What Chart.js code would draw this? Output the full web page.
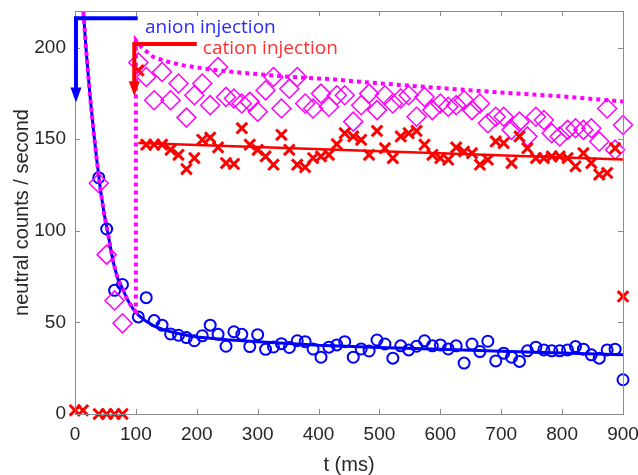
<!DOCTYPE html>
<html>
<head>
<meta charset="utf-8">
<script src="https://cdn.jsdelivr.net/npm/chart.js@4.4.1/dist/chart.umd.min.js"></script>
<style>
  html, body { margin: 0; padding: 0; background: #fff; overflow: hidden; }
  canvas { display: block; }
</style>
</head>
<body>
<canvas id="chart" width="638" height="475"></canvas>
<script>
// time bins (ms)
const times = [
  0, 13, 26, 39, 52, 65, 78, 91, 104, 117,
  130, 143, 157, 170, 183, 196, 209, 222, 235, 248,
  261, 274, 287, 300, 313, 326, 339, 352, 365, 378,
  391, 404, 417, 430, 443, 457, 470, 483, 496, 509,
  522, 535, 548, 561, 574, 587, 600, 613, 626, 639,
  652, 665, 678, 691, 704, 717, 730, 743, 757, 770,
  783, 796, 809, 822, 835, 848, 861, 874, 887, 900
];

// blue circles: anion only
const anionCounts = [
  null, null, null, 129, 101, 67.5, 70.7, null, 53, 63.5,
  51, 48.5, 43.7, 43, 41.7, 40, 42.7, 48.5, 43.5, 37,
  44.9, 43.5, 36.8, 43.3, 35.3, 36.6, 38.4, 36.3, 40, 39.5,
  35.5, 31, 36.5, 37.7, 39.5, 31, 35.5, 34.4, 40.4, 38.2,
  30.5, 37.2, 35, 37, 40, 37.2, 37.7, 35.5, 37.2, 27.8,
  38.2, 34.1, 39.7, 29, 33.2, 31, 28.7, 34.5, 36.5, 35,
  34.5, 34.5, 35, 36.8, 35.4, 32.3, 30.5, 35, 35.4, 18.7
];

// red crosses: cation only
const cationCounts = [
  2, 2, null, 0, 0, 0, 0, null, 187.6, 147,
  147, 147, 144.2, 141.5, 133.7, 139.7, 149.7, 150.9, 145.5, 137,
  136.5, 156, 147, 144.2, 140.6, 136.1, 152.4, 144.2, 136.1, 134.7,
  139.7, 140.6, 141.5, 147.3, 153.3, 151.5, 149.7, 141.5, 154.5, 145.1,
  139.7, 151.5, 153.3, 154.5, 147, 141.5, 139.7, 138.8, 145.5, 143.3,
  142.4, 136.1, 138.8, 148.8, 147.9, 137, 151.5, 145.1, 139.7, 139.7,
  140.6, 140.6, 139.7, 135.2, 142.4, 137, 130.7, 131.6, 145.1, 64.2
];

// magenta diamonds: anion + cation
const mixedCounts = [
  null, null, null, 126, 87, 62, 49.5, null, 191.9, 184,
  171.3, 186.7, 171.3, 180.4, 161.8, 174, 180.4, 168.6, 189.4, 173.1,
  172.2, 169.5, 170.4, 165, 176.7, 184, 166.8, 177.6, 184, 169.5,
  166.8, 174.9, 167.7, 174, 174, 159.6, 168.6, 174.9, 165.9, 174,
  169.5, 172.2, 174, 162.3, 173.1, 165.9, 169.5, 167.7, 168.6, 171.3,
  165.9, 169.5, 158.7, 162.3, 162.3, 155.1, 159.6, 151.5, 162.3, 160.5,
  153.3, 151.5, 155.1, 156, 155.1, 156, 148.8, 166.8, 144.3, 157.8
];

// fit curves
const anionFitT = [8, 13, 18, 24, 30, 36, 42, 48, 55, 62, 70, 78, 86, 95, 104, 115, 130, 150, 175, 200, 250, 300, 400, 500, 600, 700, 800, 900];
const anionFitV = [250, 223, 200, 176, 156, 138, 122, 109, 97, 84, 74, 68.5, 62.5, 57.5, 54, 51, 48, 45.5, 43.5, 42, 40.5, 39.5, 37.5, 36.3, 35.3, 34.3, 33.3, 32.3];

const mixedFitT = [8, 13, 18, 24, 30, 36, 42, 48, 55, 62, 70, 78, 86, 95, 100, 100, 110, 128, 150, 178, 220, 260, 342, 424, 470, 578, 687, 796, 900];
const mixedFitV = [250, 223, 200, 176, 156, 138, 122, 109, 97, 84, 74, 68.5, 62.5, 57.5, 56, 204, 200, 195, 192.5, 190.3, 188.2, 186.7, 184.3, 182.7, 181.3, 178.5, 175.8, 173.5, 170.6];

const cationFitT = [104, 900];
const cationFitV = [148, 139];

const xTicks = [0, 100, 200, 300, 400, 500, 600, 700, 800, 900];
const yTicks = [0, 50, 100, 150, 200];

const pairs = (xs, ys) => xs.map((x, i) => ({ x: x, y: ys[i] })).filter(p => p.y !== null);

function injectionArrow(ctx, xs, ys, tStart, tEnd, level, tip, color) {
  const yl = ys.getPixelForValue(level);
  const xc = xs.getPixelForValue(tStart);
  const xe = xs.getPixelForValue(tEnd);
  const yt = ys.getPixelForValue(tip);
  ctx.strokeStyle = color;
  ctx.fillStyle = color;
  ctx.lineWidth = 4;
  ctx.beginPath();
  ctx.moveTo(xc - 2, yl);
  ctx.lineTo(xe, yl);
  ctx.moveTo(xc, yl - 2);
  ctx.lineTo(xc, yt - 14);
  ctx.stroke();
  ctx.beginPath();
  ctx.moveTo(xc - 5.5, yt - 15);
  ctx.lineTo(xc + 5.5, yt - 15);
  ctx.lineTo(xc, yt);
  ctx.closePath();
  ctx.fill();
}

// box, inward ticks and the two injection markers
const framePlugin = {
  id: 'frame',
  afterDatasetsDraw(chart) {
    const { ctx, chartArea: a } = chart;
    const xs = chart.scales.x, ys = chart.scales.y;
    ctx.save();
    ctx.strokeStyle = '#8c8c8c';
    ctx.lineWidth = 1;
    ctx.strokeRect(a.left + 0.5, a.top + 0.5, a.right - a.left, a.bottom - a.top);
    ctx.beginPath();
    xTicks.forEach(v => {
      const px = Math.round(xs.getPixelForValue(v)) + 0.5;
      ctx.moveTo(px, a.bottom); ctx.lineTo(px, a.bottom - 5);
      ctx.moveTo(px, a.top); ctx.lineTo(px, a.top + 5);
    });
    yTicks.forEach(v => {
      const py = Math.round(ys.getPixelForValue(v)) + 0.5;
      ctx.moveTo(a.left, py); ctx.lineTo(a.left + 5, py);
      ctx.moveTo(a.right, py); ctx.lineTo(a.right - 5, py);
    });
    ctx.stroke();

    injectionArrow(ctx, xs, ys, 1.6, 103, 216, 170, '#0000ff');
    injectionArrow(ctx, xs, ys, 97.4, 200, 202, 173.5, '#ff0000');

    ctx.font = '19px "Open Sans"';
    ctx.textBaseline = 'middle';
    ctx.textAlign = 'left';
    ctx.fillStyle = '#2a2aff';
    ctx.fillText('anion injection', xs.getPixelForValue(115), ys.getPixelForValue(211));
    ctx.fillStyle = '#ff3030';
    ctx.fillText('cation injection', xs.getPixelForValue(210), ys.getPixelForValue(199.3));
    ctx.restore();
  }
};

const tickFont = { family: "'Liberation Sans', Arial, sans-serif", size: 19 };
const titleFont = { family: "'Liberation Sans', Arial, sans-serif", size: 20, lineHeight: 1 };

new Chart(document.getElementById('chart'), {
  type: 'scatter',
  data: {
    datasets: [
      {
        label: 'mixed fit',
        data: pairs(mixedFitT, mixedFitV),
        showLine: true,
        borderColor: '#ff00ff',
        borderWidth: 4,
        borderDash: [4, 4],
        borderCapStyle: 'butt',
        pointRadius: 0,
        tension: 0,
        order: 0
      },
      {
        label: 'cation fit',
        data: pairs(cationFitT, cationFitV),
        showLine: true,
        borderColor: '#ff0000',
        borderWidth: 2.5,
        pointRadius: 0,
        order: 1
      },
      {
        label: 'anion fit',
        data: pairs(anionFitT, anionFitV),
        showLine: true,
        borderColor: '#0000ff',
        borderWidth: 3,
        pointRadius: 0,
        tension: 0,
        order: 2
      },
      {
        label: 'cation',
        data: pairs(times, cationCounts),
        pointStyle: 'crossRot',
        pointRadius: 7.5,
        borderWidth: 3,
        borderColor: '#ff0000',
        clip: false,
        order: 3
      },
      {
        label: 'anion + cation',
        data: pairs(times, mixedCounts),
        pointStyle: 'rectRot',
        pointRadius: 9.5,
        borderWidth: 1.5,
        borderColor: '#ff00ff',
        backgroundColor: 'rgba(0,0,0,0)',
        clip: false,
        order: 4
      },
      {
        label: 'anion',
        data: pairs(times, anionCounts),
        pointStyle: 'circle',
        pointRadius: 5.5,
        borderWidth: 2,
        borderColor: '#0000ff',
        backgroundColor: 'rgba(0,0,0,0)',
        clip: false,
        order: 5
      }
    ]
  },
  options: {
    responsive: false,
    animation: false,
    layout: { padding: { left: 10, right: 15, top: 9, bottom: 0 } },
    plugins: {
      legend: { display: false },
      tooltip: { enabled: false }
    },
    scales: {
      x: {
        type: 'linear',
        min: 0,
        max: 900,
        afterBuildTicks: s => { s.ticks = xTicks.map(v => ({ value: v })); },
        afterFit: s => { s.height = 61; s.paddingLeft = 0; s.paddingRight = 0; },
        grid: { display: false, drawTicks: false },
        border: { display: false },
        ticks: { color: '#262626', font: tickFont, padding: 9, maxRotation: 0 },
        title: { display: true, text: 't (ms)', color: '#262626', font: titleFont, padding: 0 }
      },
      y: {
        type: 'linear',
        min: 0,
        max: 220,
        afterBuildTicks: s => { s.ticks = yTicks.map(v => ({ value: v })); },
        afterFit: s => { s.width = 65; s.paddingTop = 0; s.paddingBottom = 0; },
        grid: { display: false, drawTicks: false },
        border: { display: false },
        ticks: { color: '#262626', font: tickFont, padding: 9 },
        title: { display: true, text: 'neutral counts / second', color: '#262626', font: titleFont, padding: { top: 2, bottom: 0 } }
      }
    }
  },
  plugins: [framePlugin]
});
</script>
</body>
</html>
